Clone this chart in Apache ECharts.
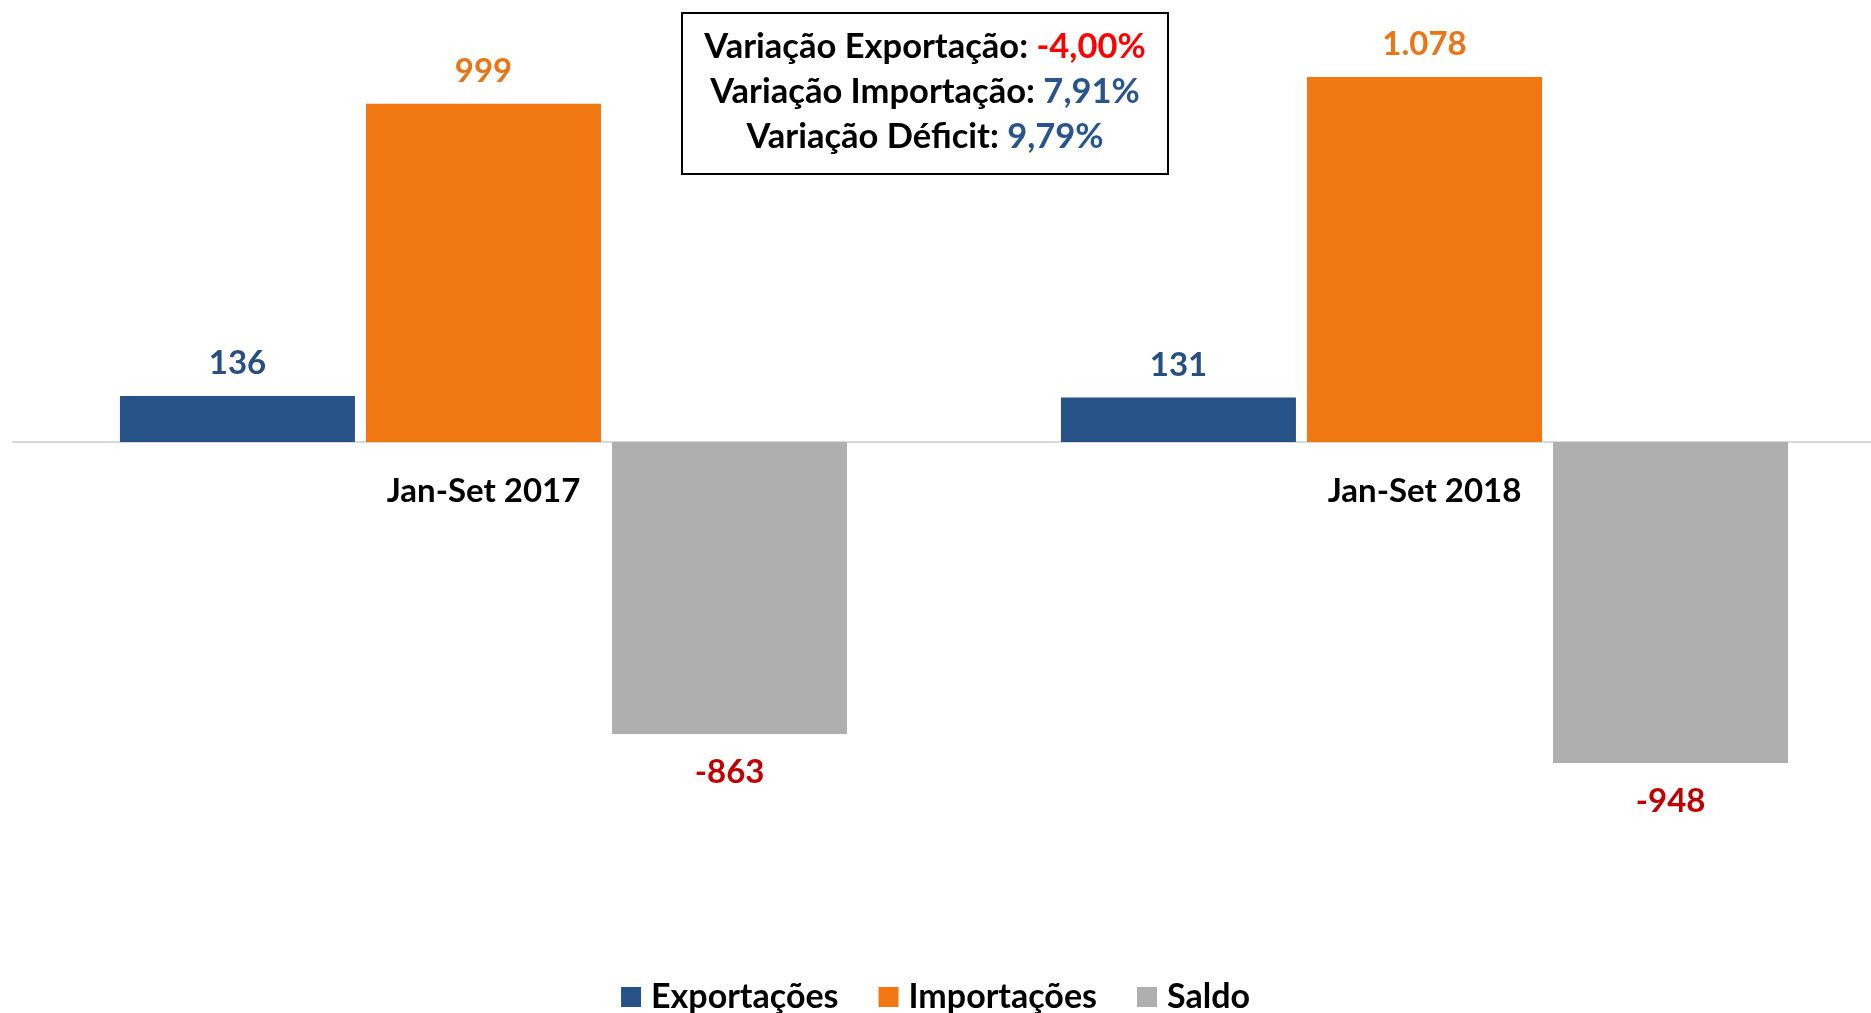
<!DOCTYPE html>
<html>
<head>
<meta charset="utf-8">
<script src="https://cdn.jsdelivr.net/npm/echarts@6/dist/echarts.min.js"></script>
<style>
  html, body { margin: 0; padding: 0; background: #fff; }
  #chart { width: 1871px; height: 1013px; }
</style>
</head>
<body>
<div id="chart"></div>
<script>
// dados
const categories = ['Jan-Set 2017', 'Jan-Set 2018'];
const seriesNames = ['Exportações', 'Importações', 'Saldo'];
const exportacoes = [136, 131];
const importacoes = [999, 1078];
const saldo = [-863, -948];

// caixa de variações
const variacaoLabels = ['Variação Exportação: ', 'Variação Importação: ', 'Variação Déficit: '];
const variacaoValores = ['-4,00%', '7,91%', '9,79%'];
const variacaoEstilo = ['red', 'blue', 'blue'];

const FONT = 'Lato';
const barColors = ['#265287', '#F07711', '#AFAFAF'];
const labelColors = ['#264F82', '#E97516', '#C00000'];

const Y_MIN = -1000, Y_MAX = 1100;
const GRID_TOP = 69.5, GRID_H = 711;

// separador de milhar com ponto
function fmt(v) {
  const s = String(Math.abs(v)).replace(/\B(?=(\d{3})+(?!\d))/g, '.');
  return (v < 0 ? '-' : '') + s;
}

function barSeries(name, data, idx, pos, dist) {
  return {
    name: name,
    type: 'bar',
    data: data,
    barWidth: 235,
    barGap: '4.7%',
    itemStyle: { color: barColors[idx] },
    label: {
      show: true,
      position: pos,
      distance: dist,
      formatter: p => fmt(p.value),
      color: labelColors[idx],
      fontFamily: FONT,
      fontWeight: 'bold',
      fontSize: 33
    }
  };
}

const chart = echarts.init(document.getElementById('chart'));

const boxLeft = 682, boxTop = 13, boxW = 486, boxH = 161;
const lineY = [47, 92, 137];

const graphics = [{
  type: 'rect',
  shape: { x: boxLeft, y: boxTop, width: boxW, height: boxH },
  style: { fill: '#fff', stroke: '#000', lineWidth: 2 },
  z: 10
}];
variacaoLabels.forEach((lab, i) => {
  graphics.push({
    type: 'text',
    x: boxLeft + boxW / 2,
    y: lineY[i],
    z: 11,
    style: {
      text: '{k|' + lab + '}{' + variacaoEstilo[i] + '|' + variacaoValores[i] + '}',
      align: 'center',
      verticalAlign: 'middle',
      rich: {
        k: { fontFamily: FONT, fontWeight: 'bold', fontSize: 34.5, fill: '#000' },
        red: { fontFamily: FONT, fontWeight: 'bold', fontSize: 34.5, fill: '#FF0000' },
        blue: { fontFamily: FONT, fontWeight: 'bold', fontSize: 34.5, fill: '#285590' }
      }
    }
  });
});

// distância da linha do zero até a base da grade
const zeroOffset = GRID_H * (0 - Y_MIN) / (Y_MAX - Y_MIN);

chart.setOption({
  animation: false,
  backgroundColor: '#fff',
  grid: {
    left: 13, top: GRID_TOP, width: 1882, height: GRID_H,
    containLabel: false, outerBoundsMode: 'none'
  },
  legend: {
    data: seriesNames,
    left: 'center',
    top: 975,
    icon: 'rect',
    itemWidth: 20,
    itemHeight: 20,
    itemGap: 40,
    textStyle: {
      fontFamily: FONT, fontWeight: 'bold', fontSize: 34, color: '#000',
      padding: [0, 0, 0, 5]
    }
  },
  xAxis: {
    type: 'category',
    data: categories,
    offset: -zeroOffset,
    axisLine: { onZero: false, lineStyle: { color: '#D9D9D9', width: 2 } },
    axisTick: { show: false },
    axisLabel: {
      margin: 33,
      color: '#000',
      fontFamily: FONT,
      fontWeight: 'bold',
      fontSize: 33
    }
  },
  yAxis: {
    type: 'value',
    min: Y_MIN,
    max: Y_MAX,
    show: false,
    splitLine: { show: false }
  },
  series: [
    barSeries(seriesNames[0], exportacoes, 0, 'top', 16),
    barSeries(seriesNames[1], importacoes, 1, 'top', 16),
    barSeries(seriesNames[2], saldo, 2, 'bottom', 22)
  ],
  graphic: graphics
});
</script>
</body>
</html>
